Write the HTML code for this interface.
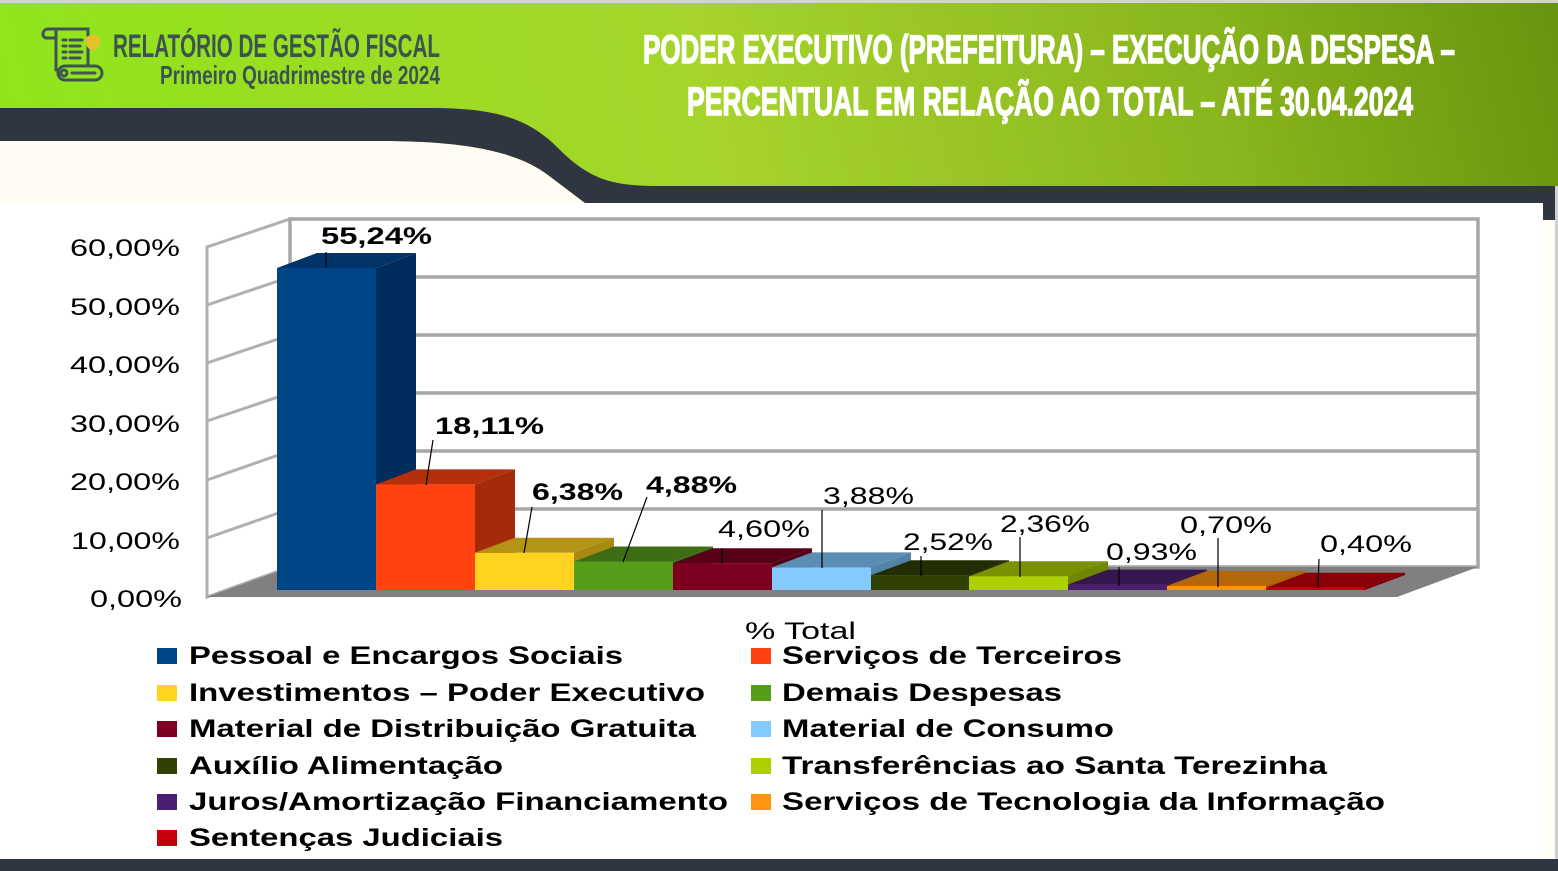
<!DOCTYPE html>
<html><head><meta charset="utf-8"><style>
html,body{margin:0;padding:0;background:#fff;}
svg{display:block;}
text{font-family:"Liberation Sans",Arial,sans-serif;}
</style></head><body>
<svg width="1558" height="871" viewBox="0 0 1558 871" xmlns="http://www.w3.org/2000/svg">
<defs>
<linearGradient id="g" gradientUnits="userSpaceOnUse" x1="0" y1="190" x2="1558" y2="-160">
<stop offset="0" stop-color="#8fe61a"/>
<stop offset="0.45" stop-color="#a6d42c"/>
<stop offset="0.75" stop-color="#8ab61e"/>
<stop offset="1" stop-color="#66900c"/>
</linearGradient>
</defs>
<rect x="0" y="0" width="1558" height="871" fill="#ffffff"/>
<rect x="0" y="0" width="1558" height="210" fill="url(#g)"/>
<rect x="0" y="0" width="1558" height="3" fill="#d2d3d3"/>
<path d="M0,141 L380,141 C460,141 515,150 548,175 L585,203 L0,203 Z" fill="#fffdf3"/>
<path d="M0,108 L430,108 C495,108 528,118 558,148 C590,180 612,186 660,186 L1555,186 L1555,220 L1543,220 L1543,203 L585,203 L548,175 C515,150 460,141 380,141 L0,141 Z" fill="#2f3541"/>
<rect x="0" y="203" width="1543" height="656" fill="#ffffff"/>
<rect x="1543" y="220" width="12" height="640" fill="#fffef6"/>
<rect x="1555" y="186" width="3" height="685" fill="#cfd0d4"/>
<rect x="0" y="859" width="1558" height="12" fill="#2f3541"/>

<!-- logo -->
<g fill="none" stroke="#3e5553" stroke-width="3" stroke-linecap="round">
<path d="M48,29 L88,29 L88,66"/>
<path d="M48,29 C42,29 41,38 47,38 L56,38"/>
<path d="M56,30 L56,70"/>
<rect x="58" y="66" width="44" height="14" rx="7"/>
<circle cx="64" cy="73" r="3"/>
<path d="M72,73 L95,73"/>
<path d="M63,40 L66,40 M70,40 L82,40 M63,46 L66,46 M70,46 L80,46 M63,52 L66,52 M70,52 L82,52 M63,58 L66,58 M70,58 L80,58"/>
</g>
<path d="M93,34 L100,37 L100,43 C100,47 96,50 93,51 C90,50 86,47 86,43 L86,37 Z" fill="#e2c22c"/>
<text x="113" y="57" font-size="32" font-weight="bold" fill="#3b5450" textLength="327" lengthAdjust="spacingAndGlyphs">RELATÓRIO  DE GESTÃO FISCAL</text>
<text x="160" y="84" font-size="26" font-weight="bold" fill="#3b5450" textLength="280" lengthAdjust="spacingAndGlyphs">Primeiro Quadrimestre de 2024</text>

<!-- title -->
<text x="643" y="63" font-size="40" font-weight="bold" fill="#ffffff" stroke="#ffffff" stroke-width="1.4" textLength="812" lengthAdjust="spacingAndGlyphs">PODER EXECUTIVO (PREFEITURA) – EXECUÇÃO DA DESPESA –</text>
<text x="687" y="115" font-size="40" font-weight="bold" fill="#ffffff" stroke="#ffffff" stroke-width="1.4" textLength="726" lengthAdjust="spacingAndGlyphs">PERCENTUAL EM RELAÇÃO AO TOTAL – ATÉ 30.04.2024</text>

<!-- walls -->
<polygon points="207,247 290,219 290,567 207,597" fill="#ffffff" stroke="#b0b0b0" stroke-width="3"/>
<g stroke="#b0b0b0" stroke-width="3">
<line x1="207" y1="538" x2="290" y2="509"/>
<line x1="207" y1="480" x2="290" y2="451"/>
<line x1="207" y1="421" x2="290" y2="393"/>
<line x1="207" y1="363" x2="290" y2="335"/>
<line x1="207" y1="305" x2="290" y2="277"/>
</g>
<rect x="290" y="219" width="1188" height="348" fill="#ffffff" stroke="#a6a6a6" stroke-width="3.5"/>
<g stroke="#a6a6a6" stroke-width="3.5">
<line x1="290" y1="277" x2="1478" y2="277"/>
<line x1="290" y1="335" x2="1478" y2="335"/>
<line x1="290" y1="393" x2="1478" y2="393"/>
<line x1="290" y1="451" x2="1478" y2="451"/>
<line x1="290" y1="509" x2="1478" y2="509"/>
</g>
<polygon points="207,597 290,567 1478,567 1397,597" fill="#808080"/>

<!-- bars -->
<polygon points="277,268 376,268 416,253 317,253" fill="#003469"/>
<polygon points="376,268 416,253 416,575 376,590" fill="#002d5b"/>
<rect x="277" y="268" width="99" height="322" fill="#004586"/>

<polygon points="376,484.4 475,484.4 515,469.4 416,469.4" fill="#b5300a"/>
<polygon points="475,484.4 515,469.4 515,575 475,590" fill="#a42b0a"/>
<rect x="376" y="484.4" width="99" height="105.6" fill="#ff420e"/>

<polygon points="475,552.8 574,552.8 614,537.8 515,537.8" fill="#b39414"/>
<polygon points="574,552.8 614,537.8 614,575 574,590" fill="#a68a12"/>
<rect x="475" y="552.8" width="99" height="37.2" fill="#ffd320"/>

<polygon points="574,561.5 673,561.5 713,546.5 614,546.5" fill="#3d6e14"/>
<polygon points="673,561.5 713,546.5 713,575 673,590" fill="#386613"/>
<rect x="574" y="561.5" width="99" height="28.5" fill="#579d1c"/>

<polygon points="673,563.2 772,563.2 812,548.2 713,548.2" fill="#580017"/>
<polygon points="772,563.2 812,548.2 812,575 772,590" fill="#520016"/>
<rect x="673" y="563.2" width="99" height="26.8" fill="#7e0021"/>

<polygon points="772,567.4 871,567.4 911,552.4 812,552.4" fill="#5c8db3"/>
<polygon points="871,567.4 911,552.4 911,575 871,590" fill="#5483a8"/>
<rect x="772" y="567.4" width="99" height="22.6" fill="#83caff"/>

<polygon points="871,575.3 969,575.3 1009,560.3 911,560.3" fill="#222d03"/>
<polygon points="969,575.3 1009,560.3 1009,575 969,590" fill="#1f2903"/>
<rect x="871" y="575.3" width="98" height="14.7" fill="#314004"/>

<polygon points="969,576.2 1068,576.2 1108,561.2 1009,561.2" fill="#7a9100"/>
<polygon points="1068,576.2 1108,561.2 1108,575 1068,590" fill="#718600"/>
<rect x="969" y="576.2" width="99" height="13.8" fill="#aecf00"/>

<polygon points="1068,584.6 1167,584.6 1207,569.6 1108,569.6" fill="#35164e"/>
<polygon points="1167,584.6 1207,569.6 1207,575 1167,590" fill="#311448"/>
<rect x="1068" y="584.6" width="99" height="5.4" fill="#4b1f6f"/>

<polygon points="1167,585.9 1266,585.9 1306,570.9 1207,570.9" fill="#b3680a"/>
<polygon points="1266,585.9 1306,570.9 1306,575 1266,590" fill="#a66109"/>
<rect x="1167" y="585.9" width="99" height="4.1" fill="#ff950e"/>

<polygon points="1266,587.7 1365,587.7 1405,572.7 1306,572.7" fill="#8a0008"/>
<polygon points="1365,587.7 1405,572.7 1405,575 1365,590" fill="#800007"/>
<rect x="1266" y="587.7" width="99" height="2.3" fill="#c5000b"/>

<!-- leader lines -->
<g stroke="#000" stroke-width="1.2">
<line x1="326" y1="252" x2="326" y2="268"/>
<line x1="433" y1="440" x2="426" y2="485"/>
<line x1="532" y1="507" x2="524" y2="553"/>
<line x1="647" y1="497" x2="623" y2="562"/>
<line x1="722" y1="548" x2="722" y2="564"/>
<line x1="822" y1="510" x2="822" y2="568"/>
<line x1="921" y1="556" x2="921" y2="576"/>
<line x1="1020" y1="537" x2="1020" y2="577"/>
<line x1="1119" y1="567" x2="1119" y2="586"/>
<line x1="1218" y1="538" x2="1218" y2="587"/>
<line x1="1319" y1="559" x2="1318" y2="588"/>
</g>

<!-- data labels -->
<g font-size="24" fill="#000">
<text x="321" y="244" font-weight="bold" textLength="111" lengthAdjust="spacingAndGlyphs">55,24%</text>
<text x="435" y="434" font-weight="bold" textLength="109" lengthAdjust="spacingAndGlyphs">18,11%</text>
<text x="532" y="500" font-weight="bold" textLength="91" lengthAdjust="spacingAndGlyphs">6,38%</text>
<text x="646" y="493" font-weight="bold" textLength="91" lengthAdjust="spacingAndGlyphs">4,88%</text>
<text x="718" y="537" textLength="92" lengthAdjust="spacingAndGlyphs">4,60%</text>
<text x="823" y="504" textLength="91" lengthAdjust="spacingAndGlyphs">3,88%</text>
<text x="903" y="550" textLength="90" lengthAdjust="spacingAndGlyphs">2,52%</text>
<text x="1000" y="532" textLength="90" lengthAdjust="spacingAndGlyphs">2,36%</text>
<text x="1106" y="560" textLength="91" lengthAdjust="spacingAndGlyphs">0,93%</text>
<text x="1180" y="533" textLength="92" lengthAdjust="spacingAndGlyphs">0,70%</text>
<text x="1320" y="552" textLength="92" lengthAdjust="spacingAndGlyphs">0,40%</text>
</g>

<!-- y axis labels -->
<g font-size="24" fill="#000">
<text x="70" y="256" textLength="110" lengthAdjust="spacingAndGlyphs">60,00%</text>
<text x="70" y="315" textLength="110" lengthAdjust="spacingAndGlyphs">50,00%</text>
<text x="70" y="373" textLength="110" lengthAdjust="spacingAndGlyphs">40,00%</text>
<text x="70" y="432" textLength="110" lengthAdjust="spacingAndGlyphs">30,00%</text>
<text x="70" y="490" textLength="110" lengthAdjust="spacingAndGlyphs">20,00%</text>
<text x="71" y="549" textLength="109" lengthAdjust="spacingAndGlyphs">10,00%</text>
<text x="90" y="607" textLength="92" lengthAdjust="spacingAndGlyphs">0,00%</text>
</g>

<text x="745" y="639" font-size="24" fill="#000" textLength="111" lengthAdjust="spacingAndGlyphs">% Total</text>

<!-- legend -->
<rect x="157" y="648" width="20" height="16" fill="#004586"/>
<rect x="157" y="685" width="20" height="16" fill="#ffd320"/>
<rect x="157" y="721" width="20" height="16" fill="#7e0021"/>
<rect x="157" y="758" width="20" height="16" fill="#314004"/>
<rect x="157" y="794" width="20" height="16" fill="#4b1f6f"/>
<rect x="157" y="830" width="20" height="16" fill="#c5000b"/>
<rect x="751" y="648" width="20" height="16" fill="#ff420e"/>
<rect x="751" y="685" width="20" height="16" fill="#579d1c"/>
<rect x="751" y="721" width="20" height="16" fill="#83caff"/>
<rect x="751" y="758" width="20" height="16" fill="#aecf00"/>
<rect x="751" y="794" width="20" height="16" fill="#ff950e"/>
<g font-size="25" font-weight="bold" fill="#000">
<text x="189" y="664" textLength="434" lengthAdjust="spacingAndGlyphs">Pessoal e Encargos Sociais</text>
<text x="189" y="701" textLength="516" lengthAdjust="spacingAndGlyphs">Investimentos – Poder Executivo</text>
<text x="189" y="737" textLength="507" lengthAdjust="spacingAndGlyphs">Material de Distribuição Gratuita</text>
<text x="189" y="774" textLength="314" lengthAdjust="spacingAndGlyphs">Auxílio Alimentação</text>
<text x="189" y="810" textLength="539" lengthAdjust="spacingAndGlyphs">Juros/Amortização Financiamento</text>
<text x="189" y="846" textLength="314" lengthAdjust="spacingAndGlyphs">Sentenças Judiciais</text>
<text x="782" y="664" textLength="340" lengthAdjust="spacingAndGlyphs">Serviços de Terceiros</text>
<text x="782" y="701" textLength="280" lengthAdjust="spacingAndGlyphs">Demais Despesas</text>
<text x="782" y="737" textLength="332" lengthAdjust="spacingAndGlyphs">Material de Consumo</text>
<text x="782" y="774" textLength="545" lengthAdjust="spacingAndGlyphs">Transferências ao Santa Terezinha</text>
<text x="782" y="810" textLength="603" lengthAdjust="spacingAndGlyphs">Serviços de Tecnologia da Informação</text>
</g>
</svg>
</body></html>
